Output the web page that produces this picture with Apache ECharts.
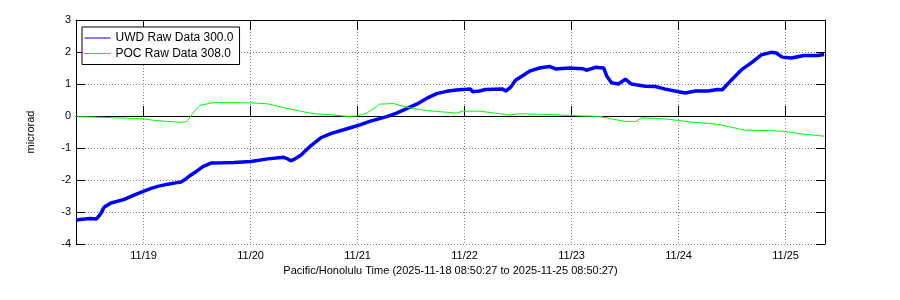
<!DOCTYPE html>
<html>
<head>
<meta charset="utf-8">
<script src="https://cdn.jsdelivr.net/npm/echarts@6/dist/echarts.min.js"></script>
<style>
html,body{margin:0;padding:0;background:#fff;}
#c{width:900px;height:300px;}
</style>
</head>
<body>
<div id="c"></div>
<script>
// x values: days since 2025-11-18 00:00 (Pacific/Honolulu)
const xMin = 0.36836; // 2025-11-18 08:50:27
const xMax = 7.36836; // 2025-11-25 08:50:27
const tickDays = [1, 2, 3, 4, 5, 6, 7];
const tickLabels = ['11/19', '11/20', '11/21', '11/22', '11/23', '11/24', '11/25'];
const yTicks = [-4, -3, -2, -1, 0, 1, 2, 3];

const uwdDays = [0.37, 0.45, 0.5, 0.56, 0.6, 0.63, 0.695, 0.76, 0.825, 0.91, 1.003, 1.07, 1.133, 1.227, 1.30, 1.35, 1.397, 1.44, 1.481, 1.554, 1.629, 1.74, 1.843, 2.002, 2.161, 2.31, 2.34, 2.375, 2.42, 2.469, 2.562, 2.656, 2.749, 2.87, 3.01, 3.113, 3.272, 3.365, 3.458, 3.552, 3.645, 3.739, 3.832, 3.925, 4.056, 4.075, 4.093, 4.14, 4.196, 4.355, 4.386, 4.43, 4.476, 4.607, 4.70, 4.794, 4.85, 4.98, 5.102, 5.139, 5.223, 5.30, 5.33, 5.373, 5.438, 5.503, 5.559, 5.69, 5.783, 5.877, 6.0, 6.063, 6.157, 6.278, 6.362, 6.409, 6.492, 6.586, 6.679, 6.773, 6.866, 6.913, 6.969, 7.053, 7.174, 7.296, 7.36];
const uwdValues = [-3.25, -3.22, -3.2, -3.22, -3.05, -2.85, -2.72, -2.66, -2.6, -2.47, -2.35, -2.26, -2.2, -2.13, -2.09, -2.06, -1.96, -1.85, -1.76, -1.58, -1.47, -1.46, -1.45, -1.42, -1.34, -1.29, -1.33, -1.40, -1.33, -1.23, -0.93, -0.68, -0.55, -0.43, -0.29, -0.17, -0.02, 0.09, 0.23, 0.37, 0.55, 0.70, 0.77, 0.81, 0.84, 0.76, 0.70, 0.78, 0.83, 0.84, 0.78, 0.90, 1.12, 1.40, 1.50, 1.55, 1.47, 1.50, 1.48, 1.43, 1.52, 1.50, 1.24, 1.04, 1.00, 1.15, 1.00, 0.93, 0.92, 0.84, 0.76, 0.72, 0.78, 0.78, 0.83, 0.82, 1.12, 1.44, 1.66, 1.91, 1.99, 1.97, 1.84, 1.81, 1.89, 1.89, 1.92];

const pocDays = [0.37, 0.7, 1.0, 1.105, 1.357, 1.404, 1.46, 1.525, 1.656, 2.002, 2.161, 2.31, 2.469, 2.59, 2.749, 2.898, 2.992, 3.085, 3.178, 3.207, 3.337, 3.43, 3.524, 3.645, 3.925, 3.981, 4.14, 4.289, 4.42, 4.513, 4.635, 4.821, 4.98, 5.102, 5.251, 5.373, 5.503, 5.597, 5.653, 5.877, 6.0, 6.119, 6.278, 6.362, 6.492, 6.614, 6.866, 6.988, 7.146, 7.36];
const pocValues = [-0.02, -0.05, -0.09, -0.14, -0.2, -0.17, 0.09, 0.33, 0.42, 0.41, 0.38, 0.26, 0.15, 0.07, 0.04, -0.01, 0.0, 0.09, 0.29, 0.37, 0.39, 0.30, 0.23, 0.17, 0.09, 0.15, 0.15, 0.09, 0.03, 0.07, 0.06, 0.04, 0.02, 0.0, -0.01, -0.09, -0.17, -0.17, -0.06, -0.09, -0.14, -0.19, -0.23, -0.26, -0.35, -0.44, -0.46, -0.48, -0.56, -0.63];

const pair = (xs, ys) => xs.map((x, i) => [x, ys[i]]);
const font = 'Liberation Sans, Arial, Helvetica, sans-serif';

const chart = echarts.init(document.getElementById('c'), null, {renderer: 'canvas'});
const grid = {left: 76, right: 75, top: 20, bottom: 56, containLabel: false};
const dotted = {show: true, lineStyle: {color: '#808080', width: 1, type: [1, 2]}};

chart.setOption({
  animation: false,
  backgroundColor: '#ffffff',
  textStyle: {fontFamily: font},
  grid: grid,
  legend: {
    orient: 'vertical',
    left: 82, top: 27,
    padding: [4, 6, 4, 2],
    itemGap: 1.5,
    itemWidth: 26,
    itemHeight: 14,
    borderColor: '#000', borderWidth: 1, borderRadius: 0,
    backgroundColor: '#fff',
    lineStyle: {width: 1},
    itemStyle: {opacity: 0},
    textStyle: {fontFamily: font, fontSize: 12, color: '#000', lineHeight: 14},
    data: ['UWD Raw Data 300.0', 'POC Raw Data 308.0']
  },
  xAxis: [{
    type: 'value', min: xMin, max: xMax, position: 'bottom',
    name: 'Pacific/Honolulu Time (2025-11-18 08:50:27 to 2025-11-25 08:50:27)',
    nameLocation: 'middle', nameGap: 16,
    nameTextStyle: {fontFamily: font, fontSize: 11, color: '#000'},
    axisLine: {show: true, lineStyle: {color: '#000', width: 1}},
    axisTick: {show: true, inside: true, length: 10, lineStyle: {color: '#000'}, customValues: tickDays},
    axisLabel: {show: true, customValues: tickDays, margin: 6, fontFamily: font, fontSize: 11, color: '#000',
      formatter: v => tickLabels[tickDays.indexOf(Math.round(v))] || ''},
    splitLine: dotted
  }, {
    type: 'value', min: xMin, max: xMax, position: 'top',
    axisLine: {show: true, onZero: false, lineStyle: {color: '#000', width: 1}},
    axisTick: {show: true, inside: true, length: 10, lineStyle: {color: '#000'}, customValues: tickDays},
    axisLabel: {show: false},
    splitLine: {show: false}
  }],
  yAxis: [{
    type: 'value', min: -4, max: 3, interval: 1, position: 'left',
    name: 'microrad', nameLocation: 'middle', nameGap: 40,
    nameTextStyle: {fontFamily: font, fontSize: 11, color: '#000'},
    axisLine: {show: true, onZero: false, lineStyle: {color: '#000', width: 1}},
    axisTick: {show: true, inside: true, length: 9, lineStyle: {color: '#000'}},
    axisLabel: {show: true, margin: 5, fontFamily: font, fontSize: 11, color: '#000'},
    splitLine: dotted
  }, {
    type: 'value', min: -4, max: 3, interval: 1, position: 'right',
    axisLine: {show: true, onZero: false, lineStyle: {color: '#000', width: 1}},
    axisTick: {show: true, inside: true, length: 9, lineStyle: {color: '#000'}},
    axisLabel: {show: false},
    splitLine: {show: false}
  }],
  series: [{
    name: 'UWD Raw Data 300.0', type: 'line', xAxisIndex: 0, yAxisIndex: 0,
    data: pair(uwdDays, uwdValues), symbol: 'none', showSymbol: false,
    lineStyle: {color: '#0000ff', width: 3.5}, itemStyle: {color: '#0000ff'},
    clip: true
  }, {
    name: 'POC Raw Data 308.0', type: 'line', xAxisIndex: 0, yAxisIndex: 0,
    data: pair(pocDays, pocValues), symbol: 'none', showSymbol: false,
    lineStyle: {color: '#00ff00', width: 1}, itemStyle: {color: '#00ff00'},
    clip: true
  }]
});
</script>
</body>
</html>
